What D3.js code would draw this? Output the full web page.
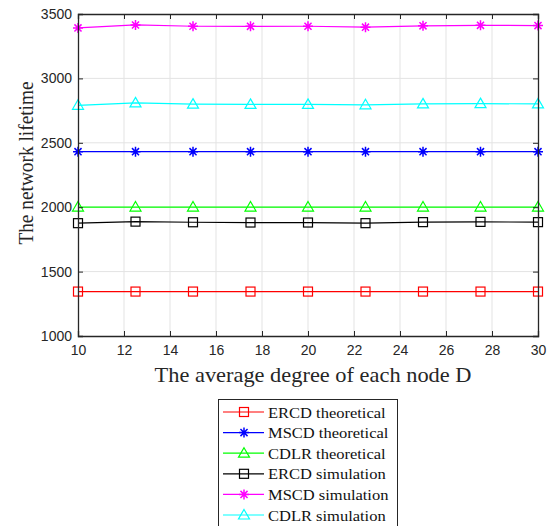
<!DOCTYPE html>
<html><head><meta charset="utf-8">
<script src="https://cdn.jsdelivr.net/npm/d3@7"></script>
<style>body{margin:0;background:#fff}svg{display:block}</style>
</head><body>
<svg id="c" width="553" height="526"></svg>
<script>
const degrees = [10, 12.5, 15, 17.5, 20, 22.5, 25, 27.5, 30];
const xTicks = [10, 12, 14, 16, 18, 20, 22, 24, 26, 28, 30];
const yTicks = [1000, 1500, 2000, 2500, 3000, 3500];
const ercdTheo = [1345, 1345, 1345, 1345, 1345, 1345, 1345, 1345, 1345];
const mscdTheo = [2431, 2431, 2431, 2431, 2431, 2431, 2431, 2431, 2431];
const cdlrTheo = [2001, 2001, 2001, 2001, 2001, 2001, 2001, 2001, 2001];
const ercdSim = [1876, 1888, 1883, 1881, 1881, 1876, 1884, 1886, 1884];
const mscdSim = [3392, 3415, 3405, 3404, 3405, 3398, 3408, 3412, 3410];
const cdlrSim = [2791, 2810, 2800, 2798, 2798, 2795, 2802, 2804, 2802];
const seriesNames = ["ERCD theoretical","MSCD theoretical","CDLR theoretical","ERCD simulation","MSCD simulation","CDLR simulation"];

const series = [
  {name: seriesNames[0], values: ercdTheo, color: "#ff0000", marker: "square"},
  {name: seriesNames[1], values: mscdTheo, color: "#0000ff", marker: "star"},
  {name: seriesNames[2], values: cdlrTheo, color: "#00ff00", marker: "triangle"},
  {name: seriesNames[3], values: ercdSim, color: "#000000", marker: "square"},
  {name: seriesNames[4], values: mscdSim, color: "#ff00ff", marker: "star"},
  {name: seriesNames[5], values: cdlrSim, color: "#00ffff", marker: "triangle"}
];

const SERIF = "'Liberation Serif', 'Times New Roman', serif";
const SANS = "'Liberation Sans', Arial, sans-serif";
const svg = d3.select("#c");
const L = 78, R = 538, T = 14, B = 336;
const x = d3.scaleLinear().domain([10, 30]).range([L, R]);
const y = d3.scaleLinear().domain([1000, 3500]).range([B, T]);

const g = svg.append("g");
g.selectAll(".gx").data(xTicks.slice(1, -1)).enter().append("line")
  .attr("x1", d => x(d)).attr("x2", d => x(d)).attr("y1", T).attr("y2", B)
  .attr("stroke", "#e3e3e3").attr("stroke-width", 1);
g.selectAll(".gy").data(yTicks.slice(1, -1)).enter().append("line")
  .attr("y1", d => y(d)).attr("y2", d => y(d)).attr("x1", L).attr("x2", R)
  .attr("stroke", "#e3e3e3").attr("stroke-width", 1);

function drawMarker(sel, type, color, cx, cy) {
  if (type === "square") {
    sel.append("rect").attr("x", cx - 4.5).attr("y", cy - 4.5).attr("width", 9).attr("height", 9)
      .attr("fill", "none").attr("stroke", color).attr("stroke-width", 1.2);
  } else if (type === "triangle") {
    sel.append("path").attr("d", `M${cx},${cy-5.5}L${cx+5.5},${cy+4}L${cx-5.5},${cy+4}Z`)
      .attr("fill", "none").attr("stroke", color).attr("stroke-width", 1.2);
  } else {
    const r = 5;
    let d = "";
    for (let k = 0; k < 4; k++) {
      const a = k * Math.PI / 4;
      d += `M${cx - r*Math.cos(a)},${cy - r*Math.sin(a)}L${cx + r*Math.cos(a)},${cy + r*Math.sin(a)}`;
    }
    sel.append("path").attr("d", d).attr("stroke", color).attr("stroke-width", 1.5).attr("fill", "none");
  }
}

const line = d3.line().x((d, i) => x(degrees[i])).y(d => y(d));
series.forEach(s => {
  svg.append("path").datum(s.values).attr("d", line)
    .attr("fill", "none").attr("stroke", s.color).attr("stroke-width", 1.2);
  const mg = svg.append("g");
  s.values.forEach((v, i) => drawMarker(mg, s.marker, s.color, x(degrees[i]), y(v)));
});

const ax = svg.append("g").attr("transform", `translate(0,${B})`)
  .call(d3.axisBottom(x).tickValues(xTicks).tickSize(-5).tickPadding(9).tickFormat(d3.format("d")));
const axT = svg.append("g").attr("transform", `translate(0,${T})`)
  .call(d3.axisTop(x).tickValues(xTicks).tickSize(-5).tickFormat(""));
const ay = svg.append("g").attr("transform", `translate(${L},0)`)
  .call(d3.axisLeft(y).tickValues(yTicks).tickSize(-5).tickPadding(6).tickFormat(d3.format("d")));
const ayR = svg.append("g").attr("transform", `translate(${R},0)`)
  .call(d3.axisRight(y).tickValues(yTicks).tickSize(-5).tickFormat(""));
[ax, axT, ay, ayR].forEach(a => {
  a.selectAll("path").attr("stroke", "#262626").attr("stroke-width", 1.3);
  a.selectAll("line").attr("stroke", "#262626").attr("stroke-width", 1);
  a.selectAll("text").style("font-family", SANS).attr("font-size", 14).attr("fill", "#262626");
});

svg.append("text").attr("transform", "translate(313,382) scale(1.12,1)").attr("text-anchor", "middle")
  .style("font-family", SERIF).attr("font-size", 20).attr("fill", "#262626")
  .text("The average degree of each node D");
svg.append("text").attr("transform", `translate(33,163) rotate(-90) scale(0.9,1)`).attr("text-anchor", "middle")
  .style("font-family", SERIF).attr("font-size", 21.5).attr("fill", "#262626")
  .text("The network lifetime");

const lg = svg.append("g");
lg.append("rect").attr("x", 218.5).attr("y", 399.5).attr("width", 179).attr("height", 140)
  .attr("fill", "#fff").attr("stroke", "#262626").attr("stroke-width", 1);
series.forEach((s, i) => {
  const yy = 412 + i * 20.6;
  lg.append("line").attr("x1", 223).attr("x2", 264).attr("y1", yy).attr("y2", yy)
    .attr("stroke", s.color).attr("stroke-width", 1.2);
  drawMarker(lg, s.marker, s.color, 244, yy);
  lg.append("text").attr("transform", `translate(268,${yy + 5.5}) scale(1.1,1)`)
    .style("font-family", SERIF).attr("font-size", 15).attr("fill", "#111")
    .text(s.name);
});
</script>
</body></html>
